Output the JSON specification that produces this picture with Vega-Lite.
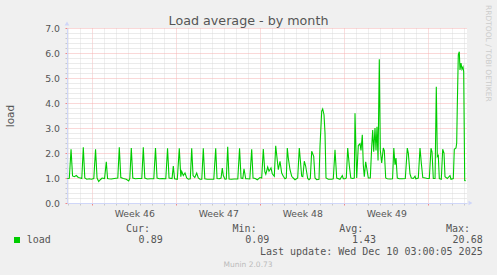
{
  "$schema": "https://vega.github.io/schema/vega-lite/v6.json",
  "width": 400,
  "height": 175,
  "autosize": {"type": "none"},
  "padding": {"left": 67, "top": 28, "right": 30, "bottom": 72},
  "background": "#F0F0F0",
  "view": {"fill": "#FFFFFF", "stroke": null},
  "config": {"font": "DejaVu Sans"},
  "datasets": {
    "load": [
      {"t": "2025-11-06T22:00:00Z", "v": 0.98},
      {"t": "2025-11-07T02:00:00Z", "v": 0.99},
      {"t": "2025-11-07T05:30:00Z", "v": 2.15},
      {"t": "2025-11-07T08:30:00Z", "v": 1.08},
      {"t": "2025-11-07T12:00:00Z", "v": 1.05},
      {"t": "2025-11-07T16:00:00Z", "v": 1.1},
      {"t": "2025-11-07T20:00:00Z", "v": 1.02},
      {"t": "2025-11-08T00:00:00Z", "v": 1.0},
      {"t": "2025-11-08T03:00:00Z", "v": 0.98},
      {"t": "2025-11-08T06:00:00Z", "v": 2.23},
      {"t": "2025-11-08T09:00:00Z", "v": 1.0},
      {"t": "2025-11-08T13:00:00Z", "v": 0.95},
      {"t": "2025-11-08T18:00:00Z", "v": 0.97},
      {"t": "2025-11-08T22:00:00Z", "v": 0.95},
      {"t": "2025-11-09T03:00:00Z", "v": 0.98},
      {"t": "2025-11-09T06:30:00Z", "v": 2.15},
      {"t": "2025-11-09T09:30:00Z", "v": 1.0},
      {"t": "2025-11-09T12:48:00Z", "v": 0.86},
      {"t": "2025-11-09T16:00:00Z", "v": 0.93},
      {"t": "2025-11-09T19:30:00Z", "v": 1.0},
      {"t": "2025-11-10T00:30:00Z", "v": 0.98},
      {"t": "2025-11-10T04:00:00Z", "v": 1.65},
      {"t": "2025-11-10T06:30:00Z", "v": 0.98},
      {"t": "2025-11-10T09:00:00Z", "v": 0.97},
      {"t": "2025-11-10T14:00:00Z", "v": 0.96},
      {"t": "2025-11-10T20:00:00Z", "v": 0.98},
      {"t": "2025-11-11T03:00:00Z", "v": 1.0},
      {"t": "2025-11-11T06:00:00Z", "v": 2.23},
      {"t": "2025-11-11T09:00:00Z", "v": 1.02},
      {"t": "2025-11-11T14:00:00Z", "v": 0.98},
      {"t": "2025-11-11T20:00:00Z", "v": 0.95},
      {"t": "2025-11-12T00:48:00Z", "v": 0.88},
      {"t": "2025-11-12T03:00:00Z", "v": 0.98},
      {"t": "2025-11-12T06:00:00Z", "v": 2.2},
      {"t": "2025-11-12T09:00:00Z", "v": 1.0},
      {"t": "2025-11-12T14:00:00Z", "v": 0.97},
      {"t": "2025-11-12T20:00:00Z", "v": 0.98},
      {"t": "2025-11-13T03:00:00Z", "v": 0.98},
      {"t": "2025-11-13T06:00:00Z", "v": 2.23},
      {"t": "2025-11-13T09:00:00Z", "v": 1.0},
      {"t": "2025-11-13T14:00:00Z", "v": 0.96},
      {"t": "2025-11-13T20:00:00Z", "v": 0.97},
      {"t": "2025-11-14T03:00:00Z", "v": 0.97},
      {"t": "2025-11-14T06:24:00Z", "v": 2.2},
      {"t": "2025-11-14T09:30:00Z", "v": 1.0},
      {"t": "2025-11-14T14:00:00Z", "v": 0.97},
      {"t": "2025-11-14T20:00:00Z", "v": 0.98},
      {"t": "2025-11-15T03:00:00Z", "v": 0.97},
      {"t": "2025-11-15T06:30:00Z", "v": 2.19},
      {"t": "2025-11-15T09:30:00Z", "v": 1.0},
      {"t": "2025-11-15T15:30:00Z", "v": 0.98},
      {"t": "2025-11-15T18:00:00Z", "v": 1.48},
      {"t": "2025-11-15T20:30:00Z", "v": 0.97},
      {"t": "2025-11-16T02:00:00Z", "v": 0.95},
      {"t": "2025-11-16T06:00:00Z", "v": 2.19},
      {"t": "2025-11-16T09:00:00Z", "v": 1.05},
      {"t": "2025-11-16T10:48:00Z", "v": 1.27},
      {"t": "2025-11-16T14:00:00Z", "v": 1.1},
      {"t": "2025-11-16T17:24:00Z", "v": 1.2},
      {"t": "2025-11-16T20:48:00Z", "v": 1.0},
      {"t": "2025-11-17T00:00:00Z", "v": 0.95},
      {"t": "2025-11-17T04:00:00Z", "v": 0.97},
      {"t": "2025-11-17T06:48:00Z", "v": 2.19},
      {"t": "2025-11-17T09:30:00Z", "v": 1.1},
      {"t": "2025-11-17T13:00:00Z", "v": 1.02},
      {"t": "2025-11-17T16:48:00Z", "v": 1.2},
      {"t": "2025-11-17T20:00:00Z", "v": 1.0},
      {"t": "2025-11-17T23:24:00Z", "v": 0.95},
      {"t": "2025-11-18T03:00:00Z", "v": 0.95},
      {"t": "2025-11-18T06:00:00Z", "v": 2.19},
      {"t": "2025-11-18T09:00:00Z", "v": 0.97},
      {"t": "2025-11-18T14:00:00Z", "v": 0.95},
      {"t": "2025-11-18T20:00:00Z", "v": 0.95},
      {"t": "2025-11-19T03:00:00Z", "v": 0.95},
      {"t": "2025-11-19T06:48:00Z", "v": 2.19},
      {"t": "2025-11-19T09:30:00Z", "v": 0.98},
      {"t": "2025-11-19T14:00:00Z", "v": 0.97},
      {"t": "2025-11-19T17:30:00Z", "v": 1.0},
      {"t": "2025-11-19T20:00:00Z", "v": 1.4},
      {"t": "2025-11-19T22:00:00Z", "v": 1.1},
      {"t": "2025-11-20T01:24:00Z", "v": 0.95},
      {"t": "2025-11-20T04:00:00Z", "v": 0.96},
      {"t": "2025-11-20T06:48:00Z", "v": 2.25},
      {"t": "2025-11-20T09:30:00Z", "v": 0.96},
      {"t": "2025-11-20T14:00:00Z", "v": 0.95},
      {"t": "2025-11-20T20:00:00Z", "v": 0.96},
      {"t": "2025-11-21T03:00:00Z", "v": 0.96},
      {"t": "2025-11-21T06:30:00Z", "v": 2.19},
      {"t": "2025-11-21T09:30:00Z", "v": 1.0},
      {"t": "2025-11-21T13:00:00Z", "v": 0.98},
      {"t": "2025-11-21T15:24:00Z", "v": 1.37},
      {"t": "2025-11-21T18:48:00Z", "v": 0.97},
      {"t": "2025-11-21T22:00:00Z", "v": 0.97},
      {"t": "2025-11-22T03:00:00Z", "v": 0.96},
      {"t": "2025-11-22T06:48:00Z", "v": 2.15},
      {"t": "2025-11-22T09:30:00Z", "v": 1.0},
      {"t": "2025-11-22T14:00:00Z", "v": 0.98},
      {"t": "2025-11-22T18:00:00Z", "v": 0.93},
      {"t": "2025-11-22T23:24:00Z", "v": 1.02},
      {"t": "2025-11-23T02:48:00Z", "v": 1.0},
      {"t": "2025-11-23T06:00:00Z", "v": 2.16},
      {"t": "2025-11-23T09:00:00Z", "v": 1.25},
      {"t": "2025-11-23T11:00:00Z", "v": 1.15},
      {"t": "2025-11-23T14:48:00Z", "v": 1.44},
      {"t": "2025-11-23T17:24:00Z", "v": 1.27},
      {"t": "2025-11-23T21:24:00Z", "v": 1.4},
      {"t": "2025-11-24T00:00:00Z", "v": 1.17},
      {"t": "2025-11-24T04:00:00Z", "v": 1.07},
      {"t": "2025-11-24T06:48:00Z", "v": 2.29},
      {"t": "2025-11-24T12:00:00Z", "v": 1.33},
      {"t": "2025-11-24T15:24:00Z", "v": 1.67},
      {"t": "2025-11-24T18:48:00Z", "v": 1.2},
      {"t": "2025-11-24T22:00:00Z", "v": 1.07},
      {"t": "2025-11-25T01:24:00Z", "v": 0.97},
      {"t": "2025-11-25T04:00:00Z", "v": 1.0},
      {"t": "2025-11-25T06:00:00Z", "v": 2.2},
      {"t": "2025-11-25T08:00:00Z", "v": 1.8},
      {"t": "2025-11-25T11:24:00Z", "v": 1.33},
      {"t": "2025-11-25T14:48:00Z", "v": 1.07},
      {"t": "2025-11-25T18:00:00Z", "v": 1.0},
      {"t": "2025-11-25T21:24:00Z", "v": 0.93},
      {"t": "2025-11-26T02:48:00Z", "v": 1.0},
      {"t": "2025-11-26T06:00:00Z", "v": 2.2},
      {"t": "2025-11-26T10:48:00Z", "v": 1.07},
      {"t": "2025-11-26T13:00:00Z", "v": 1.05},
      {"t": "2025-11-26T16:00:00Z", "v": 1.67},
      {"t": "2025-11-26T18:48:00Z", "v": 1.47},
      {"t": "2025-11-26T22:48:00Z", "v": 0.98},
      {"t": "2025-11-27T01:24:00Z", "v": 0.93},
      {"t": "2025-11-27T04:00:00Z", "v": 0.98},
      {"t": "2025-11-27T06:48:00Z", "v": 2.07},
      {"t": "2025-11-27T10:48:00Z", "v": 1.87},
      {"t": "2025-11-27T13:24:00Z", "v": 1.0},
      {"t": "2025-11-27T16:48:00Z", "v": 0.93},
      {"t": "2025-11-27T21:24:00Z", "v": 0.95},
      {"t": "2025-11-27T23:24:00Z", "v": 2.27},
      {"t": "2025-11-28T02:48:00Z", "v": 3.67},
      {"t": "2025-11-28T04:48:00Z", "v": 3.76},
      {"t": "2025-11-28T07:24:00Z", "v": 3.53},
      {"t": "2025-11-28T09:24:00Z", "v": 2.8},
      {"t": "2025-11-28T11:24:00Z", "v": 1.0},
      {"t": "2025-11-28T16:00:00Z", "v": 0.95},
      {"t": "2025-11-28T22:48:00Z", "v": 0.95},
      {"t": "2025-11-29T02:00:00Z", "v": 0.97},
      {"t": "2025-11-29T05:24:00Z", "v": 2.13},
      {"t": "2025-11-29T08:48:00Z", "v": 1.0},
      {"t": "2025-11-29T15:24:00Z", "v": 0.95},
      {"t": "2025-11-29T20:00:00Z", "v": 1.1},
      {"t": "2025-11-29T22:00:00Z", "v": 0.97},
      {"t": "2025-11-30T01:24:00Z", "v": 0.97},
      {"t": "2025-11-30T04:00:00Z", "v": 1.0},
      {"t": "2025-11-30T06:48:00Z", "v": 2.2},
      {"t": "2025-11-30T10:00:00Z", "v": 1.5},
      {"t": "2025-11-30T13:00:00Z", "v": 1.0},
      {"t": "2025-11-30T17:00:00Z", "v": 0.98},
      {"t": "2025-11-30T20:00:00Z", "v": 1.0},
      {"t": "2025-11-30T21:24:00Z", "v": 3.59},
      {"t": "2025-12-01T00:48:00Z", "v": 1.0},
      {"t": "2025-12-01T04:00:00Z", "v": 2.3},
      {"t": "2025-12-01T07:24:00Z", "v": 2.37},
      {"t": "2025-12-01T09:24:00Z", "v": 2.1},
      {"t": "2025-12-01T12:00:00Z", "v": 2.73},
      {"t": "2025-12-01T14:00:00Z", "v": 1.52},
      {"t": "2025-12-01T16:00:00Z", "v": 1.05},
      {"t": "2025-12-01T18:48:00Z", "v": 1.65},
      {"t": "2025-12-01T21:24:00Z", "v": 1.33},
      {"t": "2025-12-02T00:00:00Z", "v": 1.0},
      {"t": "2025-12-02T04:00:00Z", "v": 1.0},
      {"t": "2025-12-02T06:48:00Z", "v": 2.25},
      {"t": "2025-12-02T08:48:00Z", "v": 2.92},
      {"t": "2025-12-02T10:48:00Z", "v": 2.05},
      {"t": "2025-12-02T13:24:00Z", "v": 3.0},
      {"t": "2025-12-02T15:24:00Z", "v": 2.1},
      {"t": "2025-12-02T17:24:00Z", "v": 3.05},
      {"t": "2025-12-02T19:30:00Z", "v": 1.7},
      {"t": "2025-12-02T22:00:00Z", "v": 5.75},
      {"t": "2025-12-03T00:00:00Z", "v": 2.12},
      {"t": "2025-12-03T02:48:00Z", "v": 1.6},
      {"t": "2025-12-03T06:00:00Z", "v": 2.2},
      {"t": "2025-12-03T08:00:00Z", "v": 2.1},
      {"t": "2025-12-03T10:48:00Z", "v": 1.0},
      {"t": "2025-12-03T14:00:00Z", "v": 0.97},
      {"t": "2025-12-03T20:00:00Z", "v": 0.96},
      {"t": "2025-12-04T00:30:00Z", "v": 0.97},
      {"t": "2025-12-04T03:00:00Z", "v": 2.2},
      {"t": "2025-12-04T05:24:00Z", "v": 1.53},
      {"t": "2025-12-04T07:24:00Z", "v": 1.8},
      {"t": "2025-12-04T10:00:00Z", "v": 1.0},
      {"t": "2025-12-04T14:00:00Z", "v": 0.97},
      {"t": "2025-12-04T20:00:00Z", "v": 0.97},
      {"t": "2025-12-05T02:00:00Z", "v": 0.98},
      {"t": "2025-12-05T06:00:00Z", "v": 2.2},
      {"t": "2025-12-05T08:00:00Z", "v": 2.0},
      {"t": "2025-12-05T11:24:00Z", "v": 1.16},
      {"t": "2025-12-05T14:00:00Z", "v": 1.0},
      {"t": "2025-12-05T18:00:00Z", "v": 0.98},
      {"t": "2025-12-05T21:24:00Z", "v": 1.07},
      {"t": "2025-12-05T23:00:00Z", "v": 0.97},
      {"t": "2025-12-06T04:00:00Z", "v": 1.0},
      {"t": "2025-12-06T07:24:00Z", "v": 2.2},
      {"t": "2025-12-06T10:00:00Z", "v": 1.6},
      {"t": "2025-12-06T13:00:00Z", "v": 1.02},
      {"t": "2025-12-06T18:00:00Z", "v": 1.0},
      {"t": "2025-12-06T22:00:00Z", "v": 0.98},
      {"t": "2025-12-07T02:00:00Z", "v": 0.98},
      {"t": "2025-12-07T05:24:00Z", "v": 2.19},
      {"t": "2025-12-07T07:24:00Z", "v": 2.05},
      {"t": "2025-12-07T10:00:00Z", "v": 0.98},
      {"t": "2025-12-07T13:30:00Z", "v": 0.98},
      {"t": "2025-12-07T16:00:00Z", "v": 4.65},
      {"t": "2025-12-07T18:00:00Z", "v": 1.85},
      {"t": "2025-12-07T20:00:00Z", "v": 1.9},
      {"t": "2025-12-07T22:00:00Z", "v": 0.98},
      {"t": "2025-12-08T02:00:00Z", "v": 0.95},
      {"t": "2025-12-08T04:48:00Z", "v": 2.15},
      {"t": "2025-12-08T07:24:00Z", "v": 2.0},
      {"t": "2025-12-08T09:24:00Z", "v": 1.05},
      {"t": "2025-12-08T14:00:00Z", "v": 0.98},
      {"t": "2025-12-08T19:24:00Z", "v": 1.1},
      {"t": "2025-12-08T21:24:00Z", "v": 0.95},
      {"t": "2025-12-09T02:00:00Z", "v": 0.98},
      {"t": "2025-12-09T04:00:00Z", "v": 2.15},
      {"t": "2025-12-09T07:24:00Z", "v": 2.2},
      {"t": "2025-12-09T08:48:00Z", "v": 2.4},
      {"t": "2025-12-09T10:00:00Z", "v": 3.9},
      {"t": "2025-12-09T12:00:00Z", "v": 5.93},
      {"t": "2025-12-09T14:00:00Z", "v": 6.05},
      {"t": "2025-12-09T15:24:00Z", "v": 5.32},
      {"t": "2025-12-09T17:24:00Z", "v": 5.6},
      {"t": "2025-12-09T19:24:00Z", "v": 5.35},
      {"t": "2025-12-09T21:24:00Z", "v": 5.44},
      {"t": "2025-12-09T22:48:00Z", "v": 5.25},
      {"t": "2025-12-10T00:48:00Z", "v": 0.9},
      {"t": "2025-12-10T03:00:00Z", "v": 0.89}
    ],
    "legend": [
      {"kind": "head", "row": "head", "col": "Cur", "text": "Cur:"},
      {"kind": "head", "row": "head", "col": "Min", "text": "Min:"},
      {"kind": "head", "row": "head", "col": "Avg", "text": "Avg:"},
      {"kind": "head", "row": "head", "col": "Max", "text": "Max:"},
      {"kind": "value", "row": "load", "col": "Cur", "text": "0.89"},
      {"kind": "value", "row": "load", "col": "Min", "text": "0.09"},
      {"kind": "value", "row": "load", "col": "Avg", "text": "1.43"},
      {"kind": "value", "row": "load", "col": "Max", "text": "20.68"},
      {"kind": "name", "row": "load", "col": "Cur", "text": "load"},
      {"kind": "swatch", "row": "load", "col": "Cur", "text": ""},
      {"kind": "update", "row": "update", "col": "Max", "text": "Last update: Wed Dec 10 03:00:05 2025"},
      {"kind": "munin", "row": "munin", "col": "Avg", "text": "Munin 2.0.73"}
    ],
    "titles": [
      {"kind": "title", "text": "Load average - by month"},
      {"kind": "rrd", "text": "RRDTOOL / TOBI OETIKER"}
    ]
  },
  "layer": [
    {
      "data": {"name": "load"},
      "encoding": {
        "x": {
          "field": "t",
          "type": "temporal",
          "scale": {
            "type": "utc",
            "nice": false,
            "domain": [
              {"year": 2025, "month": 11, "date": 6, "hours": 21, "minutes": 24, "utc": true},
              {"year": 2025, "month": 12, "date": 10, "hours": 5, "minutes": 24, "utc": true}
            ]
          },
          "axis": {
            "title": null,
            "values": [
              {"year": 2025, "month": 11, "date": 7, "utc": true},
              {"year": 2025, "month": 11, "date": 8, "utc": true},
              {"year": 2025, "month": 11, "date": 9, "utc": true},
              {"year": 2025, "month": 11, "date": 10, "utc": true},
              {"year": 2025, "month": 11, "date": 11, "utc": true},
              {"year": 2025, "month": 11, "date": 12, "utc": true},
              {"year": 2025, "month": 11, "date": 13, "utc": true},
              {"year": 2025, "month": 11, "date": 14, "utc": true},
              {"year": 2025, "month": 11, "date": 15, "utc": true},
              {"year": 2025, "month": 11, "date": 16, "utc": true},
              {"year": 2025, "month": 11, "date": 17, "utc": true},
              {"year": 2025, "month": 11, "date": 18, "utc": true},
              {"year": 2025, "month": 11, "date": 19, "utc": true},
              {"year": 2025, "month": 11, "date": 20, "utc": true},
              {"year": 2025, "month": 11, "date": 21, "utc": true},
              {"year": 2025, "month": 11, "date": 22, "utc": true},
              {"year": 2025, "month": 11, "date": 23, "utc": true},
              {"year": 2025, "month": 11, "date": 24, "utc": true},
              {"year": 2025, "month": 11, "date": 25, "utc": true},
              {"year": 2025, "month": 11, "date": 26, "utc": true},
              {"year": 2025, "month": 11, "date": 27, "utc": true},
              {"year": 2025, "month": 11, "date": 28, "utc": true},
              {"year": 2025, "month": 11, "date": 29, "utc": true},
              {"year": 2025, "month": 11, "date": 30, "utc": true},
              {"year": 2025, "month": 12, "date": 1, "utc": true},
              {"year": 2025, "month": 12, "date": 2, "utc": true},
              {"year": 2025, "month": 12, "date": 3, "utc": true},
              {"year": 2025, "month": 12, "date": 4, "utc": true},
              {"year": 2025, "month": 12, "date": 5, "utc": true},
              {"year": 2025, "month": 12, "date": 6, "utc": true},
              {"year": 2025, "month": 12, "date": 7, "utc": true},
              {"year": 2025, "month": 12, "date": 8, "utc": true},
              {"year": 2025, "month": 12, "date": 9, "utc": true},
              {"year": 2025, "month": 12, "date": 10, "utc": true}
            ],
            "grid": true,
            "gridColor": {"condition": {"test": "utcday(datum.value) === 0", "value": "#F6BABA"}, "value": "#DEDEDE"},
            "gridDash": [1, 1],
            "gridOpacity": 1,
            "tickColor": {"condition": {"test": "utcday(datum.value) === 0", "value": "#F08888"}, "value": "#C8C8C8"},
            "tickSize": 2,
            "domainColor": "#CFD6F8",
            "labelExpr": "utcday(datum.value) === 0 && utcmonth(datum.value) === 10 ? 'Week ' + utcFormat(time(datum.value) + 259200000, '%V') : ''",
            "labelOffset": 42,
            "labelPadding": 4,
            "labelFont": "DejaVu Sans",
            "labelFontSize": 9.3,
            "labelColor": "#555555",
            "labelFlush": false,
            "labelOverlap": false,
            "labelBound": false
          }
        },
        "y": {
          "field": "v",
          "type": "quantitative",
          "scale": {"domain": [0, 7], "nice": false, "zero": true},
          "axis": {
            "title": "load",
            "titleFont": "DejaVu Sans",
            "titleFontSize": 10.5,
            "titleFontWeight": "normal",
            "titleColor": "#555555",
            "titlePadding": 29,
            "values": [0, 0.2, 0.4, 0.6, 0.8, 1, 1.2, 1.4, 1.6, 1.8, 2, 2.2, 2.4, 2.6, 2.8, 3, 3.2, 3.4, 3.6, 3.8, 4, 4.2, 4.4, 4.6, 4.8, 5, 5.2, 5.4, 5.6, 5.8, 6, 6.2, 6.4, 6.6, 6.8, 7],
            "grid": true,
            "gridColor": {"condition": {"test": "datum.value % 1 === 0", "value": "#F4B0B0"}, "value": "#D6D6D6"},
            "gridDash": [1, 1],
            "gridOpacity": 1,
            "tickColor": {"condition": {"test": "datum.value % 1 === 0", "value": "#F08888"}, "value": "#C8C8C8"},
            "tickSize": 2,
            "domainColor": "#CFD6F8",
            "labelExpr": "datum.value % 1 === 0 ? format(datum.value, '.1f') : ''",
            "labelFont": "DejaVu Sans",
            "labelFontSize": 9.3,
            "labelColor": "#555555",
            "labelPadding": 5.5,
            "labelOverlap": false,
            "labelFlush": false,
            "labelBound": false
          }
        }
      },
      "layer": [
        {"mark": {"type": "line", "color": "#00CC00", "strokeWidth": 1.1, "interpolate": "linear"}}
      ]
    },
    {
      "data": {"values": [{"arrow": "x"}]},
      "layer": [
        {
          "mark": {"type": "point", "shape": "triangle-right", "filled": true, "size": 22, "color": "#CFD6F8", "opacity": 1, "xOffset": 3.5},
          "encoding": {
            "x": {"datum": {"year": 2025, "month": 12, "date": 10, "hours": 5, "minutes": 24, "utc": true}, "type": "temporal",
                  "scale": {"type": "utc", "nice": false, "domain": [
                    {"year": 2025, "month": 11, "date": 6, "hours": 21, "minutes": 24, "utc": true},
                    {"year": 2025, "month": 12, "date": 10, "hours": 5, "minutes": 24, "utc": true}]}, "axis": null},
            "y": {"datum": 0, "type": "quantitative", "scale": {"domain": [0, 7], "nice": false}, "axis": null}
          }
        },
        {
          "mark": {"type": "point", "shape": "triangle-up", "filled": true, "size": 22, "color": "#CFD6F8", "opacity": 1, "yOffset": -4.5},
          "encoding": {
            "x": {"datum": {"year": 2025, "month": 11, "date": 6, "hours": 21, "minutes": 24, "utc": true}, "type": "temporal", "axis": null},
            "y": {"datum": 7, "type": "quantitative", "axis": null}
          }
        }
      ]
    },
    {
      "data": {"name": "legend"},
      "encoding": {
        "x": {"field": "col", "type": "nominal", "scale": {"type": "point", "domain": ["Cur", "Min", "Avg", "Max"], "range": [95.7, 415.7], "padding": 0}, "axis": null},
        "y": {"field": "row", "type": "nominal", "scale": {"type": "point", "domain": ["head", "load", "update", "munin"], "range": [203.5, 238.6], "padding": 0}, "axis": null}
      },
      "layer": [
        {
          "transform": [{"filter": "datum.kind === 'head'"}],
          "mark": {"type": "text", "align": "right", "baseline": "alphabetic", "dx": -12.7, "font": "DejaVu Sans Mono", "fontSize": 10, "color": "#555555"},
          "encoding": {"text": {"field": "text"}}
        },
        {
          "transform": [{"filter": "datum.kind === 'value' || datum.kind === 'update'"}],
          "mark": {"type": "text", "align": "right", "baseline": "alphabetic", "font": "DejaVu Sans Mono", "fontSize": 10, "color": "#555555"},
          "encoding": {"text": {"field": "text"}}
        },
        {
          "transform": [{"filter": "datum.kind === 'name'"}],
          "mark": {"type": "text", "align": "left", "baseline": "alphabetic", "dx": -136, "font": "DejaVu Sans Mono", "fontSize": 10, "color": "#555555"},
          "encoding": {"text": {"field": "text"}}
        },
        {
          "transform": [{"filter": "datum.kind === 'munin'"}],
          "mark": {"type": "text", "align": "center", "baseline": "alphabetic", "dx": -128, "font": "DejaVu Sans", "fontSize": 7.5, "color": "#BBBBBB"},
          "encoding": {"text": {"field": "text"}}
        },
        {
          "transform": [{"filter": "datum.kind === 'swatch'"}],
          "mark": {"type": "square", "size": 36, "filled": true, "opacity": 1, "color": "#00CC00", "xOffset": -145.7, "yOffset": -3.2}
        }
      ]
    },
    {
      "data": {"name": "titles"},
      "encoding": {
        "x": {"field": "kind", "type": "nominal", "scale": {"type": "point", "domain": ["title", "rrd"], "range": [181.5, 421], "padding": 0}, "axis": null},
        "y": {"field": "kind", "type": "nominal", "scale": {"type": "point", "domain": ["title", "rrd"], "range": [-3, -23], "padding": 0}, "axis": null},
        "text": {"field": "text"}
      },
      "layer": [
        {
          "transform": [{"filter": "datum.kind === 'title'"}],
          "mark": {"type": "text", "align": "center", "baseline": "alphabetic", "font": "DejaVu Sans", "fontSize": 12.7, "color": "#555555"}
        },
        {
          "transform": [{"filter": "datum.kind === 'rrd'"}],
          "mark": {"type": "text", "align": "left", "baseline": "middle", "angle": 90, "font": "DejaVu Sans", "fontSize": 7.5, "color": "#CCCCCC"}
        }
      ]
    }
  ],
  "resolve": {"scale": {"x": "independent", "y": "independent"}}
}
